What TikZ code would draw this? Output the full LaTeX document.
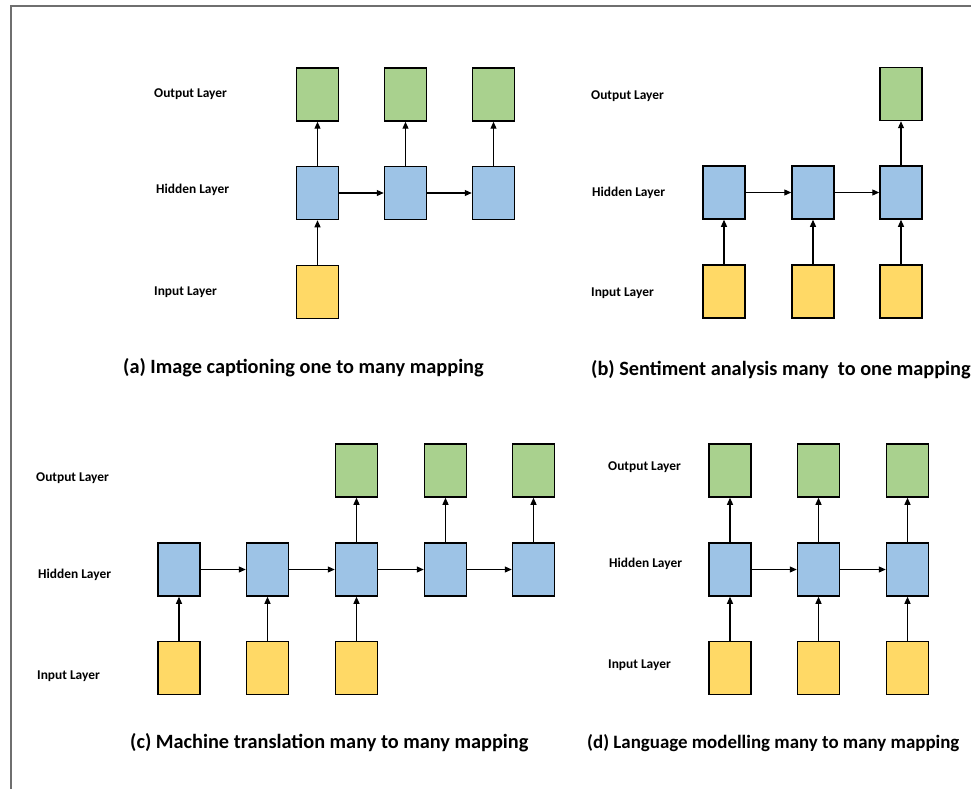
\documentclass[tikz,border=0pt]{standalone}
\usepackage{fontspec}
\setmainfont{Carlito}
\usetikzlibrary{arrows.meta}
\definecolor{outgreen}{HTML}{A9D18E}
\definecolor{hidblue}{HTML}{9DC3E6}
\definecolor{inyellow}{HTML}{FFD966}
\definecolor{framegray}{HTML}{6F6F6F}
\tikzset{
  cell/.style={draw=black, line width=1.5pt, minimum width=42pt, minimum height=53pt, inner sep=0pt},
  outcell/.style={cell, fill=outgreen},
  hidcell/.style={cell, fill=hidblue},
  incell/.style={cell, fill=inyellow},
  link/.style={-{Triangle[length=7pt,width=6pt]}, line width=1.1pt},
  layerlabel/.style={anchor=west, inner sep=0pt, font=\bfseries\fontsize{13.4}{16}\selectfont},
  caption/.style={anchor=west, inner sep=0pt, font=\bfseries\fontsize{20.3}{24}\selectfont},
  smallcaption/.style={caption, font=\bfseries\fontsize{18.9}{23}\selectfont}
}
\begin{document}
\begin{tikzpicture}[x=1pt, y=-1pt]
  \useasboundingbox (0,0) rectangle (971,789);
  % page frame
  \draw[framegray, line width=1.3pt] (11,789) -- (11,6) -- (971,6);

  % ---------- (a) one to many ----------
  \node[layerlabel] (a-lo) at (154,94) {Output Layer};
  \node[layerlabel] (a-lh) at (156,190) {Hidden Layer};
  \node[layerlabel] (a-li) at (154,292) {Input Layer};
  \foreach \i/\x in {1/317.5, 2/405.5, 3/493.5} {
    \node[outcell] (a-o\i) at (\x,94.5) {};
    \node[hidcell] (a-h\i) at (\x,193) {};
    \draw[link] (a-h\i) -- (a-o\i);
  }
  \node[incell] (a-i1) at (317.5,292) {};
  \draw[link] (a-i1) -- (a-h1);
  \draw[link] (a-h1) -- (a-h2);
  \draw[link] (a-h2) -- (a-h3);
  \node[caption] (a-cap) at (123,368) {(a) Image captioning one to many mapping};

  % ---------- (b) many to one ----------
  \node[layerlabel] (b-lo) at (591,96) {Output Layer};
  \node[layerlabel] (b-lh) at (592,193) {Hidden Layer};
  \node[layerlabel] (b-li) at (591,293) {Input Layer};
  \foreach \i/\x in {1/724, 2/813, 3/901} {
    \node[hidcell] (b-h\i) at (\x,192.5) {};
    \node[incell] (b-i\i) at (\x,291.5) {};
    \draw[link] (b-i\i) -- (b-h\i);
  }
  \node[outcell] (b-o1) at (901,94) {};
  \draw[link] (b-h3) -- (b-o1);
  \draw[link] (b-h1) -- (b-h2);
  \draw[link] (b-h2) -- (b-h3);
  \node[caption] (b-cap) at (591,370) {(b) Sentiment analysis many\ \ to one mapping};

  % ---------- (c) many to many, delayed ----------
  \node[layerlabel] (c-lo) at (36,478) {Output Layer};
  \node[layerlabel] (c-lh) at (38,575) {Hidden Layer};
  \node[layerlabel] (c-li) at (37,676) {Input Layer};
  \foreach \i/\x in {1/179, 2/267.5, 3/356.5, 4/445.5, 5/533.5}
    \node[hidcell] (c-h\i) at (\x,569.5) {};
  \foreach \i/\x in {1/179, 2/267.5, 3/356.5} {
    \node[incell] (c-i\i) at (\x,668) {};
    \draw[link] (c-i\i) -- (c-h\i);
  }
  \foreach \i/\h/\x in {1/3/356.5, 2/4/445.5, 3/5/533.5} {
    \node[outcell] (c-o\i) at (\x,470.5) {};
    \draw[link] (c-h\h) -- (c-o\i);
  }
  \foreach \a/\b in {1/2, 2/3, 3/4, 4/5}
    \draw[link] (c-h\a) -- (c-h\b);
  \node[caption] (c-cap) at (130,743) {(c) Machine translation many to many mapping};

  % ---------- (d) many to many, synced ----------
  \node[layerlabel] (d-lo) at (608,467) {Output Layer};
  \node[layerlabel] (d-lh) at (609,564) {Hidden Layer};
  \node[layerlabel] (d-li) at (608,665) {Input Layer};
  \foreach \i/\x in {1/730, 2/818.5, 3/907.5} {
    \node[outcell] (d-o\i) at (\x,470.5) {};
    \node[hidcell] (d-h\i) at (\x,569.5) {};
    \node[incell] (d-i\i) at (\x,668) {};
    \draw[link] (d-i\i) -- (d-h\i);
    \draw[link] (d-h\i) -- (d-o\i);
  }
  \draw[link] (d-h1) -- (d-h2);
  \draw[link] (d-h2) -- (d-h3);
  \node[smallcaption] (d-cap) at (587,743) {(d) Language modelling many to many mapping};
\end{tikzpicture}
\end{document}
